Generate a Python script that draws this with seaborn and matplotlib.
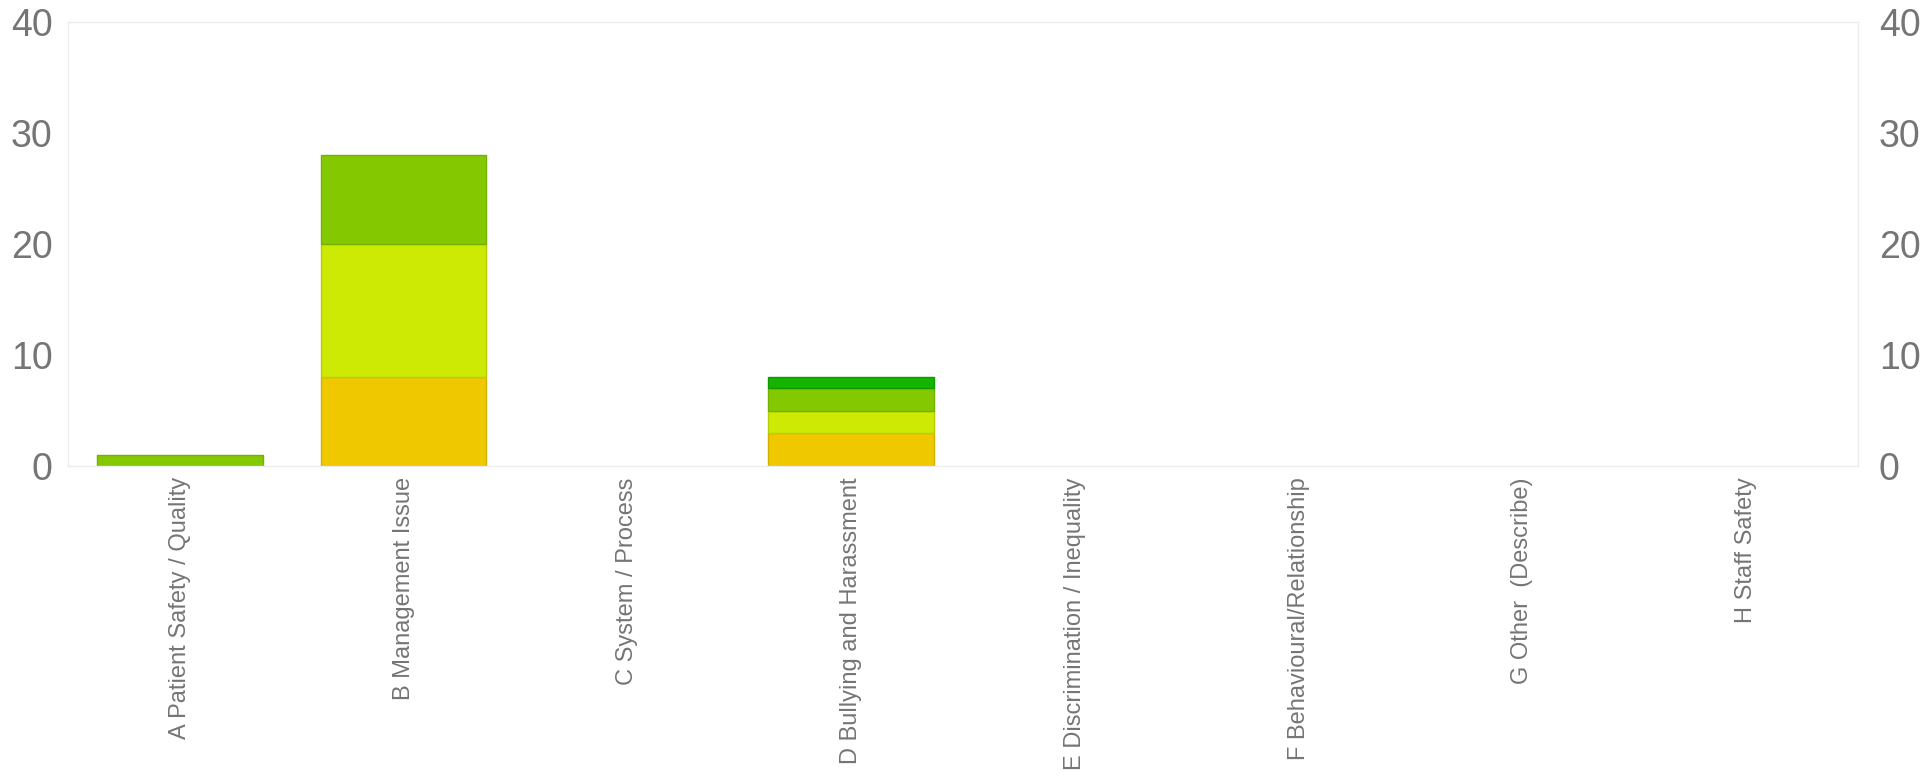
import seaborn as sns
import matplotlib.pyplot as plt
import pandas as pd
import numpy as np

categories = ['A Patient Safety / Quality', 'B Management Issue', 'C System / Process',
              'D Bullying and Harassment', 'E Discrimination / Inequality',
              'F Behavioural/Relationship', 'G Other  (Describe)', 'H Staff Safety']

# stacked series, bottom to top
series_names = ['Level 1', 'Level 2', 'Level 3', 'Level 4']
level1 = [0, 8, 0, 3, 0, 0, 0, 0]
level2 = [0, 12, 0, 2, 0, 0, 0, 0]
level3 = [1, 8, 0, 2, 0, 0, 0, 0]
level4 = [0, 0, 0, 1, 0, 0, 0, 0]
series_values = [level1, level2, level3, level4]
colors = ['#f0c800', '#cdea05', '#84c800', '#14b400']
edges = ['#d2b000', '#b4cf04', '#74b000', '#109a00']

y_ticks = [0, 10, 20, 30, 40]

sns.set_style('white')
plt.rcParams['font.family'] = ['Liberation Sans', 'DejaVu Sans']
txt = '#757575'

fig, ax = plt.subplots(figsize=(19.32, 7.78), dpi=100)
fig.subplots_adjust(left=0.0352, right=0.9617, top=0.9717, bottom=0.401)

bottom = np.zeros(len(categories))
for name, vals, c, ec in zip(series_names, series_values, colors, edges):
    df = pd.DataFrame({'cat': categories, 'val': vals, 'bottom': bottom})
    df = df[df['val'] > 0]
    if len(df):
        sns.barplot(data=df, x='cat', y='val', order=categories, color=c,
                    width=0.74, bottom=df['bottom'].values, edgecolor=ec,
                    linewidth=1, saturation=1, errorbar=None, ax=ax)
    bottom = bottom + np.array(vals)

ax.set_xlim(-0.5, len(categories) - 0.5)
ax.set_ylim(0, 40)
ax.set_yticks(y_ticks)
ax.set_xlabel('')
ax.set_ylabel('')
ax.set_xticks(range(len(categories)))
ax.set_xticklabels(categories, rotation=90, fontsize=17, color=txt)
ax.tick_params(axis='x', length=0, pad=8)
ax.tick_params(axis='y', length=0, pad=11, labelsize=27, labelcolor=txt)
for s in ax.spines.values():
    s.set_color('#ececec')
    s.set_linewidth(1)

ax2 = ax.twinx()
ax2.set_ylim(0, 40)
ax2.set_yticks(y_ticks)
ax2.tick_params(axis='y', length=0, pad=15, labelsize=27, labelcolor=txt)
for s in ax2.spines.values():
    s.set_visible(False)

plt.savefig('out.png', dpi=100)
